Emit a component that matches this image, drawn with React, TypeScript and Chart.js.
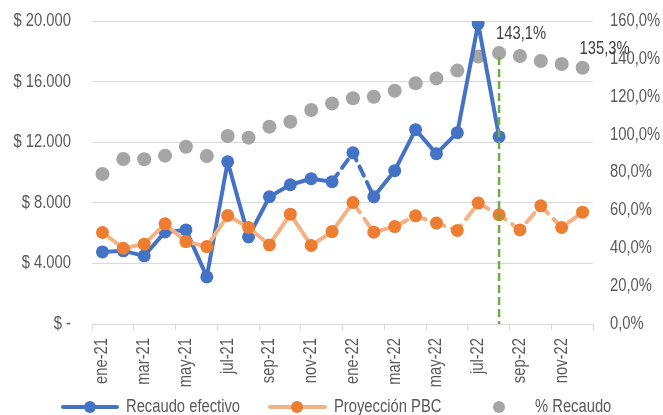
import React, { useEffect, useRef } from 'react';
import { Chart, registerables } from 'chart.js';

Chart.register(...registerables);

const months = [
  'ene-21', 'feb-21', 'mar-21', 'abr-21', 'may-21', 'jun-21', 'jul-21', 'ago-21', 'sep-21', 'oct-21', 'nov-21', 'dic-21',
  'ene-22', 'feb-22', 'mar-22', 'abr-22', 'may-22', 'jun-22', 'jul-22', 'ago-22', 'sep-22', 'oct-22', 'nov-22', 'dic-22',
];

const recaudoEfectivo: (number | null)[] = [
  4760, 4830, 4500, 6080, 6210, 3110, 10710, 5750, 8400, 9190, 9590, 9390,
  11300, 8400, 10120, 12830, 11240, 12630, 19830, 12360, null, null, null, null,
];

const proyeccionPBC = [
  6040, 5000, 5270, 6610, 5440, 5110, 7160, 6370, 5220, 7250, 5180, 6100,
  8020, 6060, 6430, 7140, 6660, 6170, 7980, 7210, 6210, 7800, 6370, 7380,
];

const pctRecaudo = [
  79.2, 87.1, 87.0, 88.9, 93.6, 88.7, 99.3, 98.4, 104.2, 106.8, 113.0, 116.5,
  119.2, 120.0, 123.2, 127.1, 129.7, 133.8, 141.2, 143.1, 141.5, 138.9, 137.3, 135.3,
];

const labeledPctIndices = [19, 23];
const cutoffIndex = 19;
const dashedRecaudoRange = [11, 13];
const projectionDashFrom = 12;

const leftMax = 20000;
const leftStep = 4000;
const rightMax = 160;
const rightStep = 20;

const FONT = "'Liberation Sans', Arial, sans-serif";
const NARROW = 0.82;
const TEXT = '#595959';
const GRID = '#d9d9d9';
const BLUE = '#4472C4';
const ORANGE = '#ED7D31';
const LIGHT_ORANGE = '#F4B183';
const GRAY = '#A5A5A5';
const GREEN = '#70AD47';

const fmtMoney = (v: number) =>
  v === 0 ? '$ -' : '$ ' + String(v).replace(/\B(?=(\d{3})+(?!\d))/g, '.');
const fmtPct = (v: number) => v.toFixed(1).replace('.', ',') + '%';

const overlayPlugin = {
  id: 'overlay',
  afterDatasetsDraw(chart: any) {
    const { ctx, chartArea, scales } = chart;
    const x = scales.x;
    const y1 = scales.y1;
    ctx.save();
    const gx = x.getPixelForValue(cutoffIndex);
    const gy = y1.getPixelForValue(pctRecaudo[cutoffIndex]);
    ctx.strokeStyle = GREEN;
    ctx.lineWidth = 2.5;
    ctx.setLineDash([8, 4]);
    ctx.beginPath();
    ctx.moveTo(gx, gy + 4);
    ctx.lineTo(gx, chartArea.bottom);
    ctx.stroke();
    ctx.setLineDash([]);
    ctx.fillStyle = '#404040';
    ctx.font = `18px ${FONT}`;
    ctx.textAlign = 'center';
    ctx.textBaseline = 'middle';
    labeledPctIndices.forEach((i) => {
      const px = x.getPixelForValue(i);
      const py = y1.getPixelForValue(pctRecaudo[i]);
      ctx.fillText(fmtPct(pctRecaudo[i]), px + 22, py - 19);
    });
    ctx.restore();
  },
  afterDraw(chart: any) {
    const { ctx } = chart;
    const ly = 407;
    ctx.save();
    ctx.font = `18px ${FONT}`;
    ctx.textBaseline = 'middle';
    ctx.textAlign = 'left';
    ctx.lineCap = 'round';
    ctx.strokeStyle = BLUE;
    ctx.lineWidth = 4;
    ctx.beginPath();
    ctx.moveTo(63, ly);
    ctx.lineTo(117, ly);
    ctx.stroke();
    ctx.fillStyle = BLUE;
    ctx.beginPath();
    ctx.arc(90, ly, 6, 0, Math.PI * 2);
    ctx.fill();
    ctx.fillStyle = TEXT;
    ctx.fillText('Recaudo efectivo', 126, ly);
    ctx.strokeStyle = LIGHT_ORANGE;
    ctx.beginPath();
    ctx.moveTo(270, ly);
    ctx.lineTo(325, ly);
    ctx.stroke();
    ctx.fillStyle = ORANGE;
    ctx.beginPath();
    ctx.arc(297, ly, 6, 0, Math.PI * 2);
    ctx.fill();
    ctx.fillStyle = TEXT;
    ctx.fillText('Proyección PBC', 334, ly);
    ctx.fillStyle = GRAY;
    ctx.beginPath();
    ctx.arc(499, ly, 6, 0, Math.PI * 2);
    ctx.fill();
    ctx.fillStyle = TEXT;
    ctx.fillText('% Recaudo', 535, ly);
    ctx.restore();
  },
};

function narrowText(ctx: CanvasRenderingContext2D) {
  const orig = ctx.fillText.bind(ctx);
  (ctx as any).fillText = (text: string, x: number, y: number, maxWidth?: number) => {
    ctx.save();
    ctx.translate(x, y);
    ctx.scale(NARROW, 1);
    if (maxWidth === undefined || maxWidth === null) orig(text, 0, 0);
    else orig(text, 0, 0, maxWidth / NARROW);
    ctx.restore();
  };
}

export default function App() {
  const canvasRef = useRef<HTMLCanvasElement | null>(null);

  useEffect(() => {
    const canvas = canvasRef.current;
    if (!canvas) return;
    const c2d = canvas.getContext('2d');
    if (c2d) narrowText(c2d);
    const chart = new Chart(canvas, {
      type: 'line',
      data: {
        labels: months,
        datasets: [
          {
            label: 'Proyección PBC',
            data: proyeccionPBC,
            yAxisID: 'y',
            borderColor: LIGHT_ORANGE,
            backgroundColor: ORANGE,
            borderWidth: 4,
            borderCapStyle: 'round',
            borderJoinStyle: 'round',
            pointRadius: 6.5,
            pointBackgroundColor: ORANGE,
            pointBorderColor: ORANGE,
            pointBorderWidth: 0,
            tension: 0,
            order: 0,
            segment: {
              borderDash: (c: any) => (c.p0DataIndex >= projectionDashFrom ? [12, 8] : undefined),
            },
          },
          {
            label: 'Recaudo efectivo',
            data: recaudoEfectivo,
            yAxisID: 'y',
            borderColor: BLUE,
            backgroundColor: BLUE,
            borderWidth: 4,
            borderCapStyle: 'round',
            borderJoinStyle: 'round',
            pointRadius: 6.5,
            pointBackgroundColor: BLUE,
            pointBorderColor: BLUE,
            pointBorderWidth: 0,
            tension: 0,
            order: 1,
            segment: {
              borderDash: (c: any) =>
                c.p0DataIndex >= dashedRecaudoRange[0] && c.p1DataIndex <= dashedRecaudoRange[1]
                  ? [10, 7]
                  : undefined,
            },
          },
          {
            label: '% Recaudo',
            data: pctRecaudo,
            yAxisID: 'y1',
            showLine: false,
            borderColor: GRAY,
            backgroundColor: GRAY,
            pointRadius: 7,
            pointBackgroundColor: GRAY,
            pointBorderColor: GRAY,
            pointBorderWidth: 0,
            order: 2,
          },
        ],
      },
      options: {
        responsive: false,
        animation: false,
        devicePixelRatio: 1,
        layout: { padding: { top: 21, left: 0, right: 0, bottom: 0 } },
        plugins: {
          legend: { display: false },
          tooltip: { enabled: false },
        },
        scales: {
          x: {
            type: 'category',
            offset: true,
            grid: {
              offset: true,
              drawOnChartArea: false,
              tickLength: 6,
              color: (c: any) => (c.index === undefined || c.index % 2 === 0 ? GRID : 'rgba(0,0,0,0)'),
            },
            border: { color: GRID },
            ticks: {
              autoSkip: false,
              maxRotation: 90,
              minRotation: 90,
              padding: 8,
              color: TEXT,
              font: { family: FONT, size: 18 },
              callback: (_v: any, i: number) => (i % 2 === 0 ? months[i] : ''),
            },
            afterFit: (s: any) => {
              s.height = 91;
            },
          },
          y: {
            position: 'left',
            min: 0,
            max: leftMax,
            grid: { color: GRID, drawTicks: false },
            border: { display: false },
            ticks: {
              stepSize: leftStep,
              padding: 21,
              color: TEXT,
              font: { family: FONT, size: 18 },
              callback: (v: any) => fmtMoney(Number(v)),
            },
            afterFit: (s: any) => {
              s.width = 92;
              s.paddingTop = 0;
              s.paddingBottom = 0;
            },
          },
          y1: {
            position: 'right',
            min: 0,
            max: rightMax,
            grid: { drawOnChartArea: false, drawTicks: false },
            border: { display: false },
            ticks: {
              stepSize: rightStep,
              padding: 17,
              color: TEXT,
              font: { family: FONT, size: 18 },
              callback: (v: any) => fmtPct(Number(v)),
            },
            afterFit: (s: any) => {
              s.width = 70;
              s.paddingTop = 0;
              s.paddingBottom = 0;
            },
          },
        },
      },
      plugins: [overlayPlugin],
    } as any);
    return () => chart.destroy();
  }, []);

  return (
    <div style={{ position: 'fixed', left: 0, top: 0, width: 663, height: 415, background: '#fff' }}>
      <canvas ref={canvasRef} width={663} height={415} style={{ width: 663, height: 415 }} />
    </div>
  );
}
